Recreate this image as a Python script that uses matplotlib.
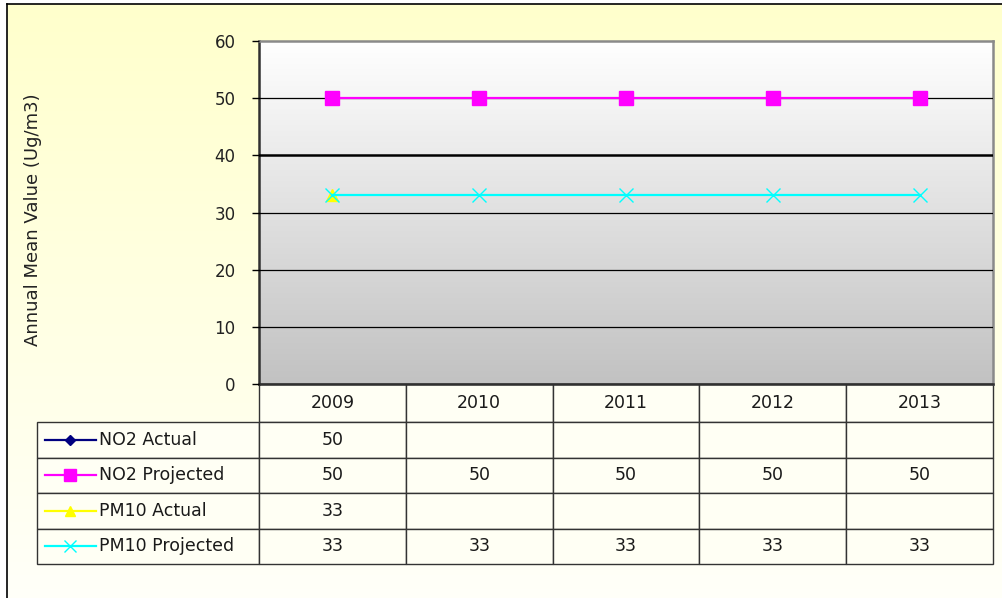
import numpy as np
import matplotlib
matplotlib.use('Agg')
import matplotlib.pyplot as plt
from matplotlib.table import Table
from matplotlib.lines import Line2D

plt.rcParams['font.family'] = ['DejaVu Sans']

# data
years = ['2009', '2010', '2011', '2012', '2013']
series_names = ['NO2 Actual', 'NO2 Projected', 'PM10 Actual', 'PM10 Projected']
no2_actual = [50, np.nan, np.nan, np.nan, np.nan]
no2_projected = [50, 50, 50, 50, 50]
pm10_actual = [33, np.nan, np.nan, np.nan, np.nan]
pm10_projected = [33, 33, 33, 33, 33]
y_ticks = [0, 10, 20, 30, 40, 50, 60]
y_label = 'Annual Mean Value (Ug/m3)'

series = [no2_actual, no2_projected, pm10_actual, pm10_projected]
styles = [
    dict(color='#000080', marker='D', ms=6),
    dict(color='#FF00FF', marker='s', ms=10.5),
    dict(color='#FFFF00', marker='^', ms=8),
    dict(color='#00FFFF', marker='x', ms=10, mew=1.0),
]

W, H = 1003, 598
fig = plt.figure(figsize=(W / 100, H / 100), dpi=100)
fig.patch.set_facecolor('white')

# chart background with yellow gradient and frame
bg = fig.add_axes([7 / W, 0, 1 - 7 / W, 1 - 4 / H])
grad = np.linspace(0, 1, 256).reshape(-1, 1)
top = np.array([1.0, 1.0, 0.80])
bot = np.array([1.0, 1.0, 0.975])
img = top + (bot - top) * grad[:, :, None]
bg.imshow(img, aspect='auto', extent=[0, 1, 0, 1], origin='upper')
bg.set_xticks([])
bg.set_yticks([])
for s in ['right', 'bottom']:
    bg.spines[s].set_visible(False)
for s in ['top', 'left']:
    bg.spines[s].set_color('black')
    bg.spines[s].set_linewidth(1.2)

# plot area
L, R, T, B = 259, 993, 41, 384
ax = fig.add_axes([L / W, 1 - B / H, (R - L) / W, (B - T) / H])
x = np.arange(len(years))
ax.set_xlim(-0.5, len(years) - 0.5)
ax.set_ylim(y_ticks[0], y_ticks[-1])

pa = np.linspace(1.0, 0.76, 256).reshape(-1, 1)
ax.imshow(np.dstack([pa, pa, pa]), aspect='auto',
          extent=[-0.5, len(years) - 0.5, y_ticks[0], y_ticks[-1]],
          origin='upper', zorder=0)

ax.set_yticks(y_ticks)
ax.set_xticks([])
ax.yaxis.grid(True, color='black', linewidth=0.9)
ax.set_axisbelow(False)
for gl, t in zip(ax.yaxis.get_gridlines(), y_ticks):
    gl.set_zorder(1)
    if t == 40:
        gl.set_linewidth(1.8)
    if t == 60:
        gl.set_visible(False)
ax.tick_params(axis='y', length=5, width=1, color='black', labelsize=12,
               pad=12, labelcolor='#222222')
for s in ax.spines.values():
    s.set_color('#8a8a8a')
    s.set_linewidth(1.8)
    s.set_zorder(2)
ax.spines['left'].set_color('#303030')
ax.spines['bottom'].set_color('#303030')

for vals, st in zip(series, styles):
    ax.plot(x, vals, color=st['color'], lw=1.6, marker=st['marker'],
            ms=st['ms'], mew=st.get('mew', 1), mec=st['color'],
            mfc=st['color'], zorder=3, clip_on=False)

fig.text(33 / W, 1 - 220 / H, y_label, rotation=90, ha='center', va='center',
         fontsize=13, color='#222222')

# data table below the plot
pw, ph = R - L, B - T
tbl_left = 37
label_w = L - tbl_left
col_w = pw / len(years)
head_h = 38
row_h = 35.5
tbl_h = head_h + row_h * len(series)
tbl = Table(ax, bbox=[(tbl_left - L) / pw, -tbl_h / ph, (R - tbl_left) / pw, tbl_h / ph])
cell_bg = '#FFFFF4'
edge = '#333333'
for j, yr in enumerate(years):
    c = tbl.add_cell(0, j + 1, col_w, head_h, text=yr, loc='center',
                     facecolor=cell_bg, edgecolor=edge)
c = tbl.add_cell(0, 0, label_w, head_h, text='', facecolor='none', edgecolor='none')
c.visible_edges = ''
for i, (name, vals) in enumerate(zip(series_names, series)):
    c = tbl.add_cell(i + 1, 0, label_w, row_h, text=name, loc='left',
                     facecolor=cell_bg, edgecolor=edge)
    c.PAD = 62 / label_w
    for j, v in enumerate(vals):
        txt = '' if np.isnan(v) else f'{v:g}'
        tbl.add_cell(i + 1, j + 1, col_w, row_h, text=txt, loc='center',
                     facecolor=cell_bg, edgecolor=edge)
tbl.auto_set_font_size(False)
tbl.set_fontsize(12.5)
for cell in tbl.get_celld().values():
    cell.set_linewidth(1.0)
    cell.get_text().set_color('#1a1a1a')
ax.add_table(tbl)

# legend keys in the label column
for i, st in enumerate(styles):
    yc = -(head_h + row_h * (i + 0.5)) / ph
    x0, x1, xm = (45 - L) / pw, (96 - L) / pw, (70 - L) / pw
    ax.add_line(Line2D([x0, x1], [yc, yc], color=st['color'], lw=1.6,
                       transform=ax.transAxes, clip_on=False))
    ax.add_line(Line2D([xm], [yc], color=st['color'], marker=st['marker'],
                       ms=st['ms'] * 0.85, mew=st.get('mew', 1),
                       transform=ax.transAxes, clip_on=False))

fig.savefig('out.png', dpi=100)
